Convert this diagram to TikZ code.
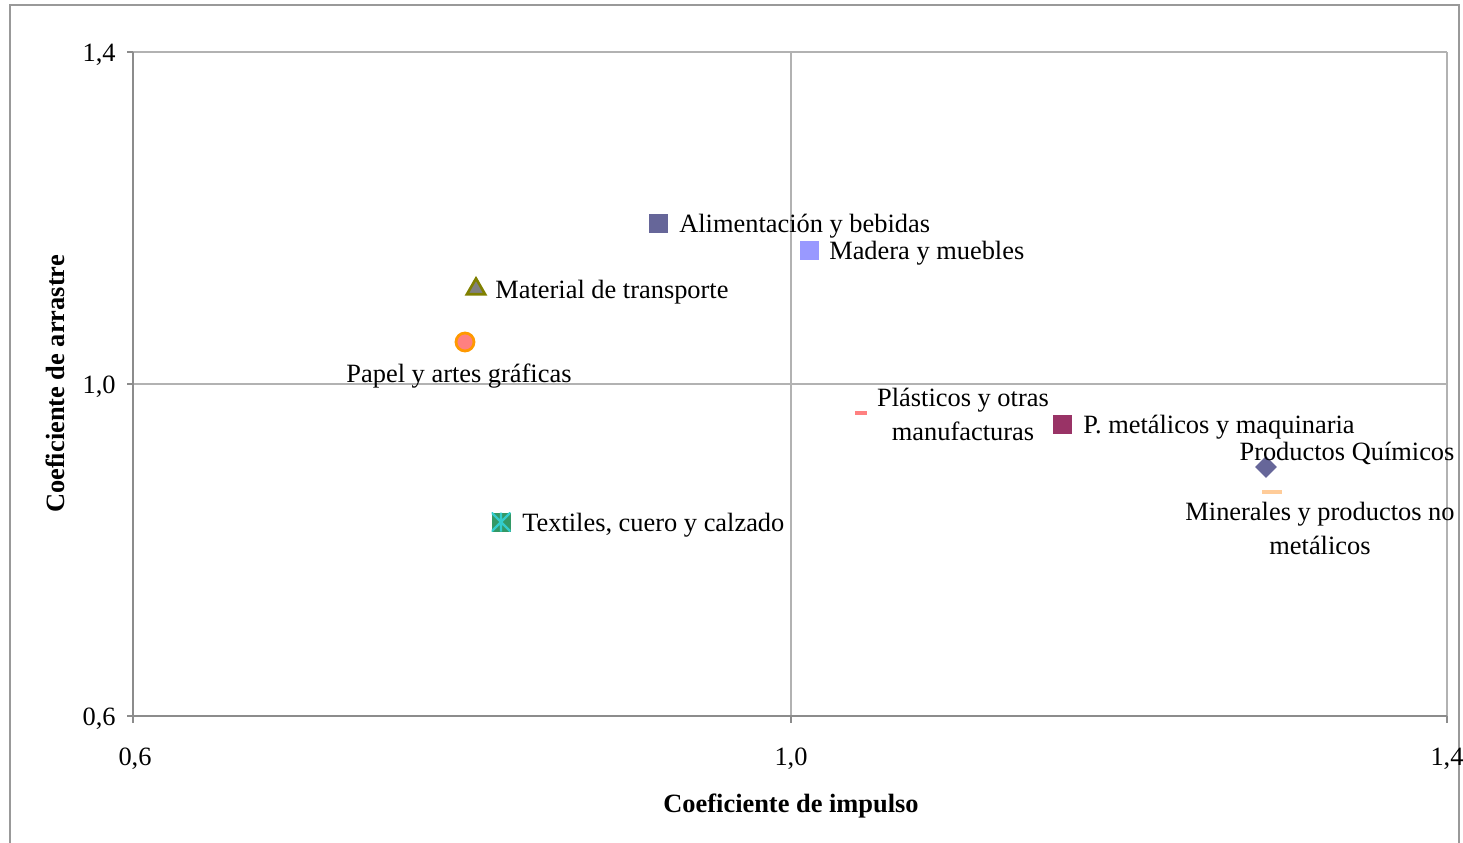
\documentclass[tikz,border=0pt]{standalone}
\usepackage{fontspec}
\setmainfont{Liberation Serif}
\usetikzlibrary{positioning,shapes.geometric}

\definecolor{alimc}{HTML}{666699}
\definecolor{maderac}{HTML}{9999FF}
\definecolor{transpc}{HTML}{808000}
\definecolor{papelc}{HTML}{FF8080}
\definecolor{papelo}{HTML}{FF9900}
\definecolor{metalc}{HTML}{993366}
\definecolor{mineralc}{HTML}{FFCC99}
\definecolor{textilc}{HTML}{339966}
\definecolor{textilo}{HTML}{33CCCC}

\tikzset{
  txt/.style={inner sep=0pt, font=\fontsize{13.2}{17}\selectfont},
  lbl/.style={txt, yshift=-1.5pt},
  ttl/.style={txt, font=\fontsize{13.2}{17}\selectfont\bfseries},
  gridln/.style={draw=black!30, line width=0.6pt},
  axisln/.style={draw=black!45, line width=0.6pt},
  sqmark/.style={rectangle, inner sep=0pt, minimum size=9.5pt},
  dashmark/.style={rectangle, inner sep=0pt, minimum height=2.4pt},
}

\begin{document}
\begin{tikzpicture}[x=0.5pt,y=-0.5pt]
\useasboundingbox (0,0) rectangle (1463,842);
% outer frame
\draw[black!40, line width=1pt] (10,860) -- (10,5) -- (1459,5) -- (1459,860);

% grid and axes
\draw[gridln] (133,52) -- (1447,52);
\draw[gridln] (133,384) -- (1447,384);
\draw[gridln] (791,52) -- (791,716);
\draw[gridln] (1447,52) -- (1447,716);
\draw[axisln] (133,52) -- (133,716) -- (1447,716);
\foreach \yy in {52,384,716} \draw[axisln] (127,\yy) -- (133,\yy);
\foreach \xx in {133,791,1447} \draw[axisln] (\xx,716) -- (\xx,723);

% tick labels
\node[lbl, anchor=east] (y14) at (116,52) {1,4};
\node[lbl, anchor=east] (y10) at (116,384) {1,0};
\node[lbl, anchor=east] (y06) at (116,716) {0,6};
\node[lbl] (x06) at (135,756) {0,6};
\node[lbl] (x10) at (791,756) {1,0};
\node[lbl] (x14) at (1447,756) {1,4};

% axis titles
\node[ttl, yshift=-1.5pt] (xtitle) at (791,803) {Coeficiente de impulso};
\node[ttl, rotate=90] (ytitle) at (55,384) {Coeficiente de arrastre};

% markers
\node[sqmark, fill=alimc] (alim) at (658,223) {};
\node[sqmark, fill=maderac] (madera) at (809,250) {};
\node[regular polygon, regular polygon sides=3, inner sep=0pt, minimum size=10.5pt,
      fill=gray, draw=transpc, line width=1.3pt] (transp) at (476,289) {};
\node[circle, inner sep=0pt, minimum size=9pt, fill=papelc, draw=papelo, line width=1.4pt] (papel) at (465,342) {};
\node[dashmark, minimum width=6pt, fill=papelc] (plast) at (861,413) {};
\node[sqmark, fill=metalc] (metal) at (1062,424) {};
\node[diamond, inner sep=0pt, minimum size=11pt, fill=alimc] (quim) at (1266,467) {};
\node[dashmark, minimum width=10pt, fill=mineralc] (miner) at (1272,492) {};
\node[sqmark, fill=textilc, path picture={
    \draw[textilo, line width=1.2pt]
      (path picture bounding box.north west) -- (path picture bounding box.south east)
      (path picture bounding box.south west) -- (path picture bounding box.north east)
      (path picture bounding box.north) -- (path picture bounding box.south);
  }] (textil) at (501,522) {};

% labels
\node[lbl, right=5.5pt of alim] (alimlbl) {Alimentación y bebidas};
\node[lbl, right=5pt of madera] (maderalbl) {Madera y muebles};
\node[lbl, right=4.5pt of transp.center, xshift=5pt] (transplbl) {Material de transporte};
\node[lbl] (papellbl) at (459,373) {Papel y artes gráficas};
\node[lbl, align=center] (plastlbl) at (963,411) {Plásticos y otras\\manufacturas};
\node[lbl, right=5.5pt of metal] (metallbl) {P. metálicos y maquinaria};
\node[lbl] (quimlbl) at (1347,450) {Productos Químicos};
\node[lbl, align=center] (minerlbl) at (1320,525) {Minerales y productos no\\metálicos};
\node[lbl, right=5.5pt of textil] (textillbl) {Textiles, cuero y calzado};
\end{tikzpicture}
\end{document}
